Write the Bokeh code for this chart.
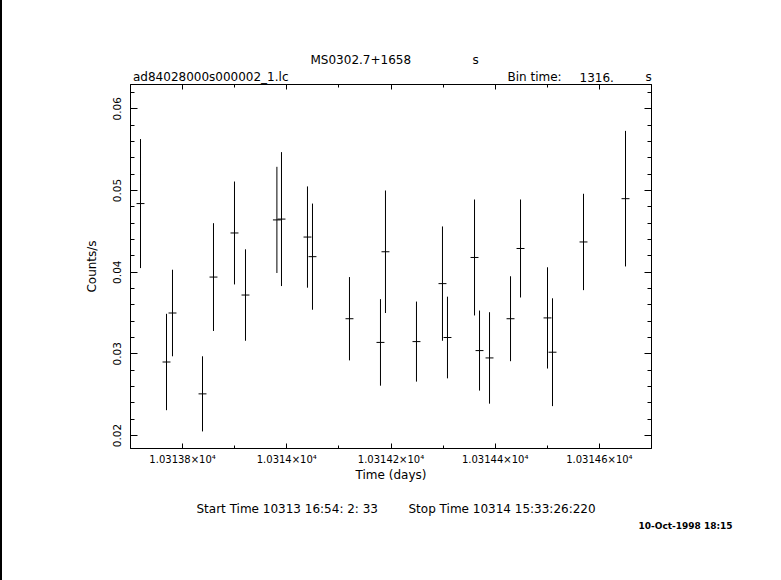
import numpy as np
from bokeh.plotting import figure
from bokeh.models import Range1d, LinearAxis, FixedTicker, Label, ColumnDataSource
from bokeh.embed import file_html
from bokeh.resources import INLINE

# ---- data ----
time_days = [10313.7192, 10313.7691, 10313.7806, 10313.8382, 10313.8593, 10313.8996,
             10313.9207, 10313.9810, 10313.9898, 10314.0397, 10314.0493, 10314.1203,
             10314.1798, 10314.1894, 10314.2489, 10314.2988, 10314.3084, 10314.3603,
             10314.3699, 10314.3891, 10314.4294, 10314.4486, 10314.5004, 10314.5100,
             10314.5695, 10314.6501]
rate = [0.0484, 0.0290, 0.0350, 0.0251, 0.0394, 0.0448, 0.0372, 0.0464, 0.0465,
        0.0443, 0.0419, 0.0343, 0.0314, 0.0425, 0.0315, 0.0386, 0.0320, 0.0418,
        0.0304, 0.0295, 0.0343, 0.0429, 0.0344, 0.0302, 0.0437, 0.0490]
rate_err = [0.0079, 0.0059, 0.0053, 0.0046, 0.0066, 0.0063, 0.0056, 0.0065, 0.0082,
            0.0062, 0.0065, 0.0051, 0.0053, 0.0075, 0.0049, 0.0070, 0.0050, 0.0071,
            0.0049, 0.0056, 0.0052, 0.0060, 0.0062, 0.0066, 0.0059, 0.0083]
bin_time_s = 1316.0

x_ticks = [10313.8, 10314.0, 10314.2, 10314.4, 10314.6]
x_tick_labels = ["1.03138\u00d710\u2074", "1.0314\u00d710\u2074", "1.03142\u00d710\u2074",
                 "1.03144\u00d710\u2074", "1.03146\u00d710\u2074"]
x_minor = [10313.9, 10314.1, 10314.3, 10314.5]
y_ticks = [0.02, 0.03, 0.04, 0.05, 0.06]
y_tick_labels = ["0.02", "0.03", "0.04", "0.05", "0.06"]
y_minor = [0.022, 0.024, 0.026, 0.028, 0.032, 0.034, 0.036, 0.038, 0.042, 0.044,
           0.046, 0.048, 0.052, 0.054, 0.056, 0.058, 0.062]

title_text = "MS0302.7+1658"
file_text = "ad84028000s000002_1.lc"
start_text = "Start Time 10313 16:54: 2: 33"
stop_text = "Stop Time 10314 15:33:26:220"
date_text = "10-Oct-1998 18:15"

FONT = "DejaVu Sans"
SHIFT = 2  # width of the black left border of the page

t = np.array(time_days)
r = np.array(rate)
e = np.array(rate_err)
half = bin_time_s / 86400.0 / 2.0
src = ColumnDataSource(dict(x=t, y=r, ylo=r - e, yhi=r + e, xlo=t - half, xhi=t + half))

p = figure(frame_width=521, frame_height=364, output_backend="svg", toolbar_location=None,
           x_range=Range1d(10313.7, 10314.7), y_range=Range1d(0.01841, 0.06298),
           min_border_left=130 - SHIFT, min_border_right=120, min_border_top=84,
           min_border_bottom=132,
           x_axis_location=None, y_axis_location=None)
p.styles = {"border-left": "%dpx solid black" % SHIFT}
p.grid.visible = False
p.background_fill_color = "white"
p.border_fill_color = "white"
p.outline_line_color = "black"
p.outline_line_width = 1

p.segment(x0="x", y0="ylo", x1="x", y1="yhi", source=src, line_color="black", line_width=1)
p.segment(x0="xlo", y0="y", x1="xhi", y1="y", source=src, line_color="black", line_width=1)

xt = FixedTicker(ticks=x_ticks, minor_ticks=x_minor)
yt = FixedTicker(ticks=y_ticks, minor_ticks=y_minor)

def style(ax, major, minor, labels=True):
    ax.axis_line_color = "black"
    ax.major_tick_in = major
    ax.major_tick_out = 0
    ax.minor_tick_in = minor
    ax.minor_tick_out = 0
    ax.major_tick_line_color = "black"
    ax.minor_tick_line_color = "black"
    if not labels:
        ax.major_label_text_font_size = "0px"
        ax.major_label_text_color = None
        ax.major_label_standoff = 0

xb = LinearAxis(ticker=xt, axis_label="Time (days)")
style(xb, 5, 3)
xb.major_label_overrides = dict(zip(x_ticks, x_tick_labels))
xb.major_label_text_font = FONT
xb.major_label_text_font_size = "10px"
xb.major_label_text_color = "black"
xb.major_label_standoff = 5
xb.axis_label_text_font = FONT
xb.axis_label_text_font_size = "12px"
xb.axis_label_text_font_style = "normal"
xb.axis_label_text_color = "black"
xb.axis_label_standoff = 0
p.add_layout(xb, "below")

xa = LinearAxis(ticker=xt)
style(xa, 5, 3, labels=False)
p.add_layout(xa, "above")

yl = LinearAxis(ticker=yt, axis_label="Counts/s")
style(yl, 7, 4)
yl.major_label_overrides = dict(zip(y_ticks, y_tick_labels))
yl.major_label_orientation = "vertical"
yl.major_label_text_font = FONT
yl.major_label_text_font_size = "10.5px"
yl.major_label_text_color = "black"
yl.major_label_standoff = 9
yl.axis_label_text_font = FONT
yl.axis_label_text_font_size = "12px"
yl.axis_label_text_font_style = "normal"
yl.axis_label_text_color = "black"
yl.axis_label_standoff = 12
p.add_layout(yl, "left")

yr = LinearAxis(ticker=yt)
style(yr, 7, 4, labels=False)
p.add_layout(yr, "right")

def lab(text, px, py, place, size="12px", style="normal"):
    p.add_layout(Label(x=px - SHIFT, y=py - 4.5, x_units="canvas", y_units="canvas", text=text,
                       text_font=FONT, text_font_size=size, text_color="black",
                       text_font_style=style,
                       text_align="left", text_baseline="alphabetic"), place)

lab(title_text, 308, 64, "above")
lab("s", 470, 64, "above")
lab(file_text, 130.5, 81, "above")
lab("Bin time:", 505, 81, "above")
lab("%d." % int(bin_time_s), 577, 81, "above")
lab("s", 643, 81, "above")
lab(start_text, 194, 512.5, "below")
lab(stop_text, 406, 512.5, "below")
lab(date_text, 636, 530, "below", size="9px", style="bold")

open("out.html", "w").write(file_html(p, INLINE))
